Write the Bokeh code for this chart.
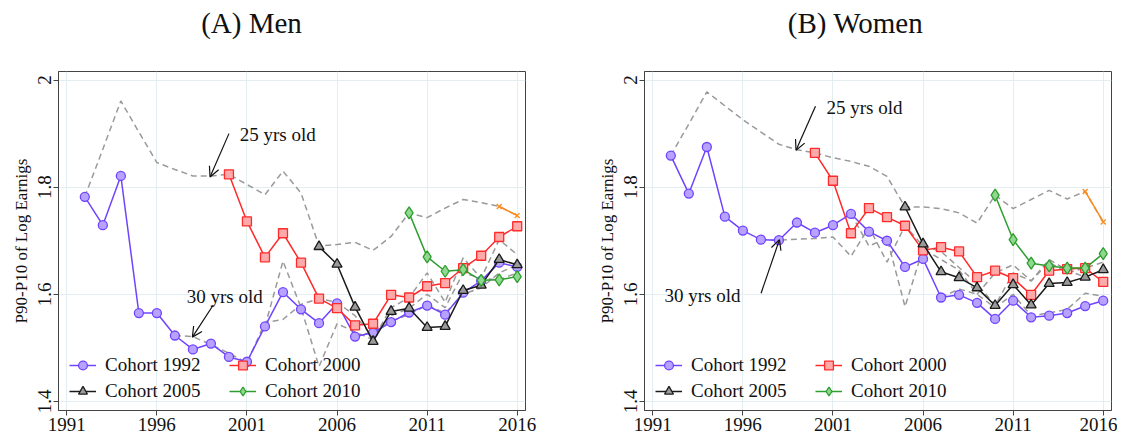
from bokeh.plotting import figure
from bokeh.models import Legend, LegendItem, Label, Arrow, OpenHead, FixedTicker, Range1d
from bokeh.layouts import row, column
from bokeh.embed import file_html
from bokeh.resources import INLINE

FONT = "Liberation Serif"

# ---------------- data ----------------
years_1992 = list(range(1992, 2017))
years_2000 = list(range(2000, 2017))
years_2005 = list(range(2005, 2017))
years_2010 = list(range(2010, 2017))
years_2015 = [2015, 2016]
years_age30 = list(range(1997, 2017))
years_age35 = list(range(2002, 2017))
years_age40 = list(range(2007, 2017))

# Men
men_c1992 = [1.782, 1.729, 1.821, 1.565, 1.565, 1.523, 1.497, 1.508, 1.483, 1.474, 1.540, 1.604,
             1.572, 1.546, 1.583, 1.521, 1.528, 1.548, 1.566, 1.579, 1.562, 1.603, 1.625, 1.659, 1.651]
men_c2000 = [1.824, 1.736, 1.669, 1.714, 1.659, 1.592, 1.574, 1.542, 1.545, 1.599, 1.594, 1.615,
             1.621, 1.649, 1.672, 1.707, 1.727]
men_c2005 = [1.689, 1.656, 1.576, 1.512, 1.568, 1.574, 1.538, 1.540, 1.607, 1.617, 1.665, 1.655]
men_c2010 = [1.752, 1.670, 1.643, 1.646, 1.626, 1.627, 1.633]
men_c2015 = [1.764, 1.747]
men_age25 = [1.782, 1.871, 1.961, 1.903, 1.846, 1.833, 1.821, 1.821, 1.824, 1.805, 1.786, 1.830,
             1.789, 1.690, 1.693, 1.697, 1.682, 1.708, 1.752, 1.743, 1.761, 1.777, 1.771, 1.764, 1.747]
men_age30 = [1.523, 1.521, 1.506, 1.490, 1.472, 1.547, 1.553, 1.581, 1.592, 1.585, 1.560, 1.520,
             1.560, 1.574, 1.600, 1.575, 1.640, 1.630, 1.627, 1.640]
men_age35 = [1.540, 1.662, 1.575, 1.465, 1.545, 1.530, 1.515, 1.575, 1.594, 1.640, 1.585, 1.668,
             1.630, 1.702, 1.674]
men_age40 = [1.521, 1.530, 1.550, 1.562, 1.580, 1.565, 1.600, 1.612, 1.640, 1.655]

# Women
wom_c1992 = [1.859, 1.788, 1.875, 1.745, 1.719, 1.702, 1.701, 1.734, 1.715, 1.729, 1.750, 1.717,
             1.700, 1.651, 1.666, 1.594, 1.599, 1.584, 1.554, 1.588, 1.557, 1.560, 1.565, 1.578, 1.588]
wom_c2000 = [1.864, 1.812, 1.714, 1.761, 1.744, 1.728, 1.682, 1.688, 1.680, 1.632, 1.644, 1.630,
             1.599, 1.644, 1.647, 1.649, 1.623]
wom_c2005 = [1.763, 1.694, 1.642, 1.631, 1.612, 1.579, 1.618, 1.580, 1.620, 1.622, 1.632, 1.646]
wom_c2010 = [1.785, 1.702, 1.658, 1.653, 1.649, 1.649, 1.676]
wom_c2015 = [1.792, 1.735]
wom_age25 = [1.859, 1.918, 1.978, 1.952, 1.926, 1.903, 1.880, 1.870, 1.864, 1.855, 1.848, 1.839,
             1.820, 1.763, 1.763, 1.760, 1.752, 1.733, 1.785, 1.760, 1.777, 1.794, 1.778, 1.792, 1.735]
wom_age30 = [1.702, 1.701, 1.703, 1.704, 1.707, 1.671, 1.725, 1.660, 1.728, 1.690, 1.680, 1.650,
             1.620, 1.579, 1.640, 1.625, 1.660, 1.640, 1.649, 1.660]
wom_age35 = [1.750, 1.690, 1.705, 1.577, 1.685, 1.665, 1.645, 1.600, 1.640, 1.655, 1.625, 1.665,
             1.645, 1.632, 1.645]
wom_age40 = [1.594, 1.610, 1.600, 1.575, 1.600, 1.560, 1.565, 1.572, 1.602, 1.596]

x_ticks = [1991, 1996, 2001, 2006, 2011, 2016]
y_ticks = [1.4, 1.6, 1.8, 2.0]
y_tick_labels = {1.4: "1.4", 1.6: "1.6", 1.8: "1.8", 2.0: "2"}
legend_labels = ["Cohort 1992", "Cohort 2000", "Cohort 2005", "Cohort 2010"]

PURPLE = "#7044ff"
RED = "#ff2b2b"
BLACK = "#1a1a1a"
GREEN = "#2e9e2e"
ORANGE = "#ff8a1c"
GRAY = "#9a9a9a"

TITLE_H = 40


def make_title(text, width, left):
    t = figure(width=width, height=TITLE_H, output_backend="svg", toolbar_location=None,
               x_range=Range1d(0, width), y_range=Range1d(0, TITLE_H),
               x_axis_type=None, y_axis_type=None,
               min_border_left=0, min_border_right=0, min_border_top=0, min_border_bottom=0)
    t.outline_line_color = None
    t.grid.visible = False
    t.add_layout(Label(x=left, y=TITLE_H - 22, text=text, text_font=FONT, text_font_size="29px",
                       text_baseline="middle", text_align="left", text_color="#111111"))
    return t


def make_panel(cohorts, ages, notes, width, bl, br):
    p = figure(width=width, height=438 - TITLE_H, output_backend="svg", toolbar_location=None,
               x_range=Range1d(1990.54, 2016.46), y_range=Range1d(1.383, 2.016),
               min_border_left=bl, min_border_right=br, min_border_top=71 - TITLE_H,
               min_border_bottom=28)
    p.outline_line_color = "#444444"
    p.outline_line_width = 1
    p.background_fill_color = "white"

    p.xaxis.ticker = FixedTicker(ticks=x_ticks)
    p.yaxis.ticker = FixedTicker(ticks=y_ticks)
    p.yaxis.major_label_overrides = y_tick_labels
    p.yaxis.major_label_orientation = "vertical"
    for ax in (p.xaxis, p.yaxis):
        ax.major_label_text_font = FONT
        ax.major_label_text_font_size = "19px"
        ax.major_label_text_color = "#111111"
        ax.axis_line_color = "#444444"
        ax.major_tick_line_color = "#444444"
        ax.major_tick_out = 5
        ax.major_tick_in = 0
        ax.minor_tick_line_color = None
        ax.major_label_standoff = 2
    p.yaxis.axis_label = "P90-P10 of Log Earnigs"
    p.yaxis.axis_label_text_font = FONT
    p.yaxis.axis_label_text_font_size = "17px"
    p.yaxis.axis_label_text_font_style = "normal"
    p.yaxis.axis_label_text_color = "#111111"
    p.yaxis.axis_label_standoff = 5
    p.grid.grid_line_color = "#e3eef0"
    p.grid.grid_line_width = 1

    for xs, ys in ages:
        p.line(xs, ys, line_color=GRAY, line_width=1.5, line_dash="6 4")

    (c92, c00, c05, c10, c15) = cohorts
    r1l = p.line(years_1992, c92, line_color=PURPLE, line_width=1.5)
    r1m = p.scatter(years_1992, c92, marker="circle", size=9, line_color=PURPLE,
                    fill_color="#b7a3ff", line_width=1.3)
    r2l = p.line(years_2000, c00, line_color=RED, line_width=1.5)
    r2m = p.scatter(years_2000, c00, marker="square", size=9, line_color=RED,
                    fill_color="#ffaaaa", line_width=1.3)
    r3l = p.line(years_2005, c05, line_color=BLACK, line_width=1.5)
    r3m = p.scatter(years_2005, c05, marker="triangle", size=10, line_color=BLACK,
                    fill_color="#9a9a9a", line_width=1.3)
    r4l = p.line(years_2010, c10, line_color=GREEN, line_width=1.5)
    r4m = p.scatter(years_2010, c10, marker="diamond", size=12, line_color=GREEN,
                    fill_color="#8fd88f", line_width=1.3)
    p.line(years_2015, c15, line_color=ORANGE, line_width=1.5)
    p.scatter(years_2015, c15, marker="x", size=7, line_color=ORANGE, line_width=1.3)

    items = [LegendItem(label=legend_labels[0], renderers=[r1l, r1m]),
             LegendItem(label=legend_labels[1], renderers=[r2l, r2m]),
             LegendItem(label=legend_labels[2], renderers=[r3l, r3m]),
             LegendItem(label=legend_labels[3], renderers=[r4l, r4m])]
    leg = Legend(items=items, location=(7, 4), orientation="horizontal", ncols=2,
                 background_fill_alpha=0, border_line_alpha=0,
                 label_text_font=FONT, label_text_font_size="19px", label_text_color="#111111",
                 glyph_width=27, glyph_height=22, spacing=4, padding=4, margin=0,
                 label_standoff=9, label_height=22, label_width=120)
    p.add_layout(leg)

    for (tx, ty, ax0, ay0, ax1, ay1, txt) in notes:
        p.add_layout(Label(x=tx, y=ty, text=txt, text_font=FONT, text_font_size="19px",
                           text_baseline="middle", text_align="left", text_color="#111111"))
        p.add_layout(Arrow(end=OpenHead(size=10, line_width=1.2, line_color="#111111"),
                           x_start=ax0, y_start=ay0, x_end=ax1, y_end=ay1,
                           line_width=1.2, line_color="#111111"))
    return p


men_notes = [(2000.6, 1.898, 2000.0, 1.900, 1998.95, 1.819, "25 yrs old"),
             (1997.66, 1.596, 1999.13, 1.580, 1997.97, 1.520, "30 yrs old")]
wom_notes = [(2000.64, 1.948, 2000.03, 1.951, 1998.95, 1.869, "25 yrs old"),
             (1991.65, 1.598, 1997.01, 1.602, 1998.03, 1.702, "30 yrs old")]

W1, W2 = 586, 531
p1 = make_panel((men_c1992, men_c2000, men_c2005, men_c2010, men_c2015),
                [(years_1992, men_age25), (years_age30, men_age30),
                 (years_age35, men_age35), (years_age40, men_age40)],
                men_notes, W1, 58, 61)
p2 = make_panel((wom_c1992, wom_c2000, wom_c2005, wom_c2010, wom_c2015),
                [(years_1992, wom_age25), (years_age30, wom_age30),
                 (years_age35, wom_age35), (years_age40, wom_age40)],
                wom_notes, W2, 58, 6)
t1 = make_title("(A) Men", W1, 179)
t2 = make_title("(B) Women", W2, 163)

layout = row(column(t1, p1), column(t2, p2))
open("out.html", "w").write(file_html(layout, INLINE))
